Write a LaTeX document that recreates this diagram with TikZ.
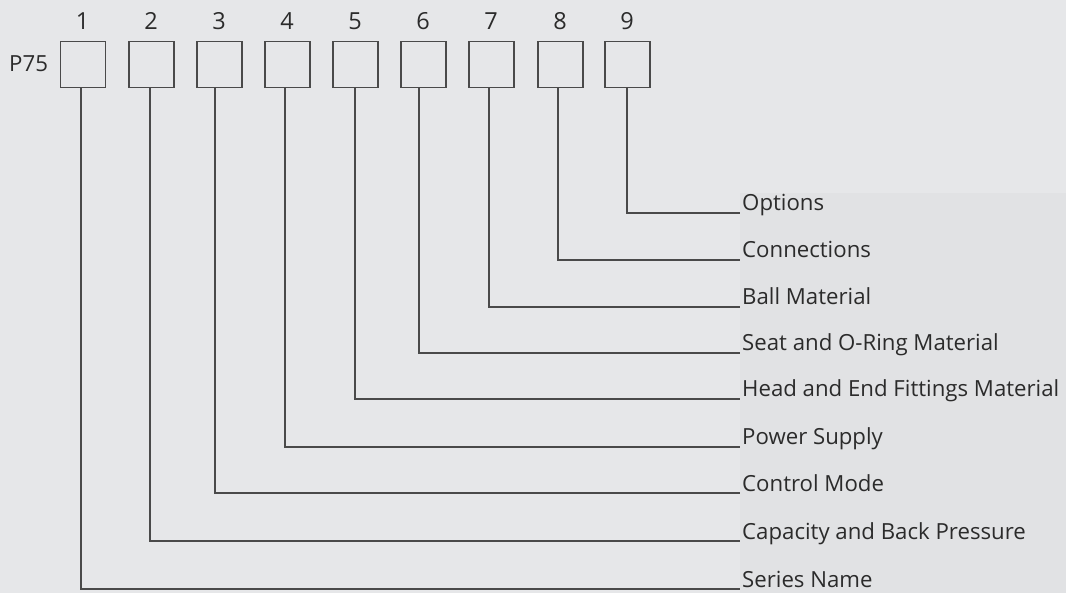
\documentclass[tikz,border=0pt]{standalone}
\usepackage{fontspec}
\setmainfont{Open Sans}
\definecolor{bgmain}{HTML}{E6E7E9}
\definecolor{bgpanel}{HTML}{E1E2E4}
\definecolor{ink}{HTML}{2B2B2B}
\definecolor{wire}{HTML}{4A4A4A}
\begin{document}
\begin{tikzpicture}[x=1pt,y=-1pt,
  digbox/.style={draw=wire,line width=1.3pt,minimum width=45pt,minimum height=46pt,inner sep=0pt},
  digit/.style={inner sep=0pt,anchor=base,text=ink,font=\fontsize{23.5}{26}\selectfont},
  lab/.style={inner sep=0pt,anchor=base west,text=ink,font=\fontsize{22.2}{26}\selectfont},
  wireline/.style={draw=wire,line width=1.3pt}]
\useasboundingbox (0,0) rectangle (1066,593);
\fill[bgmain] (0,0) rectangle (1066,593);
\fill[bgpanel] (740,193) rectangle (1066,593);
% prefix
\node[lab] (pre) at (9,72) {P75};
% boxes
\foreach \i/\cx in {1/83,2/151.5,3/219.5,4/287.5,5/355.5,6/423.5,7/491.5,8/560.5,9/627.5}{
  \node[digbox] (b\i) at (\cx,64.5) {};
  \node[digit] (n\i) at (\cx-0.5,30) {\i};
}
% label end points
\foreach \i/\yy in {1/589,2/541,3/493,4/447,5/399,6/353,7/307,8/260,9/213}{
  \coordinate (c\i) at (740,\yy);
}
\node[lab] (l1) at ([xshift=2pt,yshift=2pt]c1) {Series Name};
\node[lab] (l2) at ([xshift=2pt,yshift=2pt]c2) {Capacity and Back Pressure};
\node[lab] (l3) at ([xshift=2pt,yshift=2pt]c3) {Control Mode};
\node[lab] (l4) at ([xshift=2pt,yshift=2pt]c4) {Power Supply};
\node[lab] (l5) at ([xshift=2pt,yshift=2pt]c5) {Head and End Fittings Material};
\node[lab] (l6) at ([xshift=2pt,yshift=2pt]c6) {Seat and O-Ring Material};
\node[lab] (l7) at ([xshift=2pt,yshift=2pt]c7) {Ball Material};
\node[lab] (l8) at ([xshift=2pt,yshift=2pt]c8) {Connections};
\node[lab] (l9) at ([xshift=2pt,yshift=2pt]c9) {Options};
% connectors
\foreach \i/\dx in {1/-2,2/-1.5,3/-4.5,4/-2.5,5/-0.5,6/-4.5,7/-2.5,8/-2.5,9/-0.5}{
  \draw[wireline] ([xshift=\dx pt]b\i.south) |- (c\i);
}
\end{tikzpicture}
\end{document}
